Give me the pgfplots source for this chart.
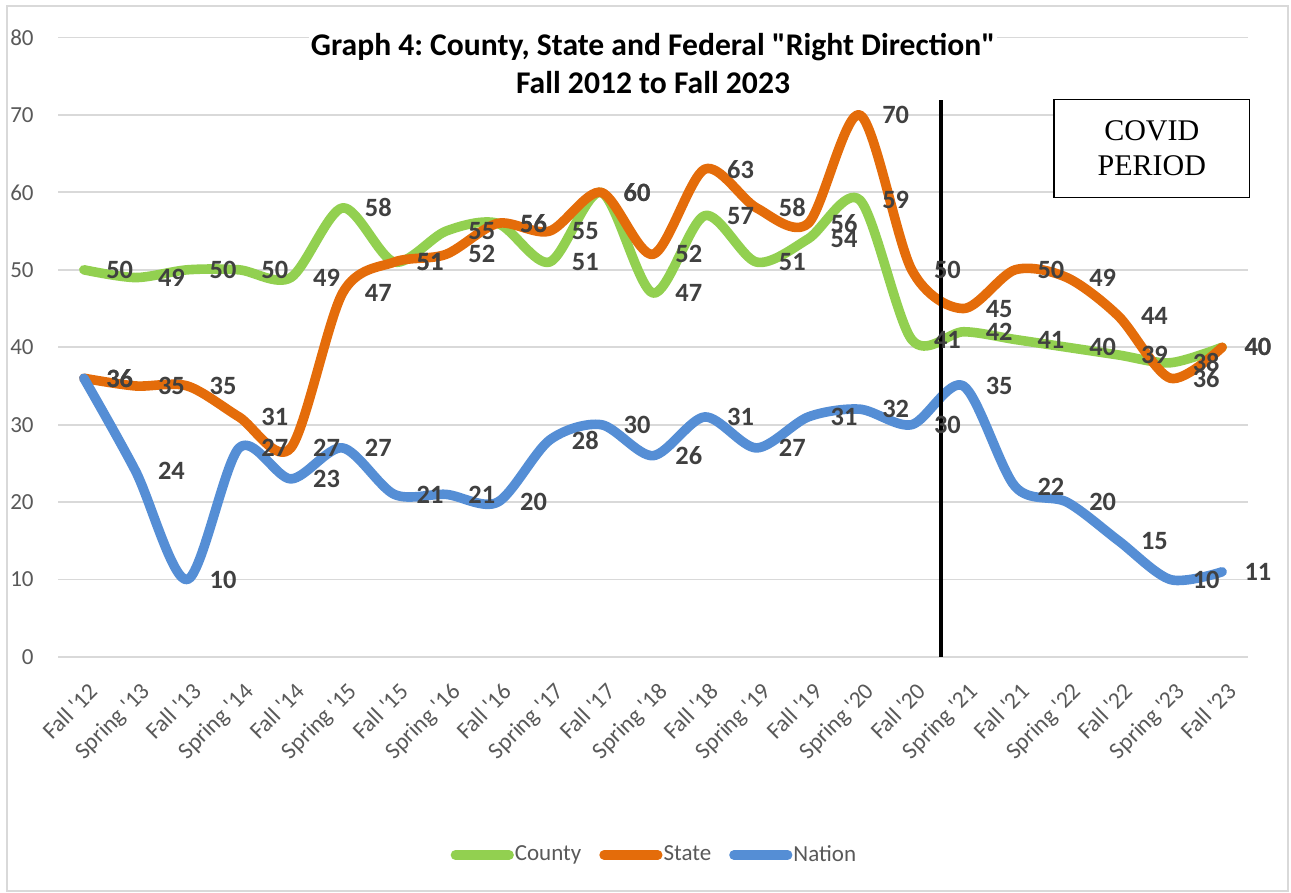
\documentclass[border=0pt]{standalone}
\usepackage{fontspec}
\setmainfont{Carlito}
\newfontfamily\timesfont{Liberation Serif}
\usepackage{pgfplots}
\usepackage{pgfplotstable}
\pgfplotsset{compat=1.18}
\definecolor{cgreen}{HTML}{92D050}
\definecolor{corange}{HTML}{E46C0A}
\definecolor{cblue}{HTML}{558ED5}
\definecolor{lblgray}{HTML}{404040}
\definecolor{tickgray}{HTML}{595959}
\definecolor{gridgray}{HTML}{D9D9D9}

\pgfplotstableread{
x county state nation
0 50 36 36
1 49 35 24
2 50 35 10
3 50 31 27
4 49 27 23
5 58 47 27
6 51 51 21
7 55 52 21
8 56 56 20
9 51 55 28
10 60 60 30
11 47 52 26
12 57 63 31
13 51 58 27
14 54 56 31
15 59 70 32
16 41 50 30
17 42 45 35
18 41 50 22
19 40 49 20
20 39 44 15
21 38 36 10
22 40 40 11
}\datatable

\begin{document}
\frenchspacing
\begin{tikzpicture}[x=1pt,y=1pt]
\useasboundingbox (-29,-118) rectangle (616.5,328.5);
\draw[gridgray, line width=0.7pt] (-25.5,-117) rectangle (615,325.5);
\begin{axis}[
  at={(0,0)}, anchor=south west,
  scale only axis, width=595pt, height=309.75pt,
  xmin=-0.5, xmax=22.5, ymin=0, ymax=80,
  clip=false,
  axis line style={draw=none},
  major tick length=0pt,
  ymajorgrids, grid style={gridgray, line width=0.9pt},
  ytick={0,10,...,80},
  xtick={0,...,22},
  xticklabels={Fall \textquotesingle12, Spring \textquotesingle13, Fall \textquotesingle13, Spring \textquotesingle14, Fall \textquotesingle14, Spring \textquotesingle15, Fall \textquotesingle15, Spring \textquotesingle16, Fall \textquotesingle16, Spring \textquotesingle17, Fall \textquotesingle17, Spring \textquotesingle18, Fall \textquotesingle18, Spring \textquotesingle19, Fall \textquotesingle19, Spring \textquotesingle20, Fall \textquotesingle20, Spring \textquotesingle21, Fall \textquotesingle21, Spring \textquotesingle22, Fall \textquotesingle22, Spring \textquotesingle23, Fall \textquotesingle23},
  /pgf/number format/assume math mode=true,
  yticklabel style={font=\fontsize{11.5}{13}\selectfont, text=tickgray, inner sep=0pt, anchor=east, xshift=-12pt},
  xticklabel style={font=\fontsize{11.8}{13}\selectfont, text=tickgray, inner sep=0pt, xshift=2pt, yshift=-12pt, rotate=45, anchor=north east},
  every node near coord/.append style={anchor=west, xshift=11pt, inner sep=0pt, font=\bfseries\fontsize{13.2}{15}\selectfont, text=lblgray},
  legend columns=3,
  legend style={at={(rel axis cs:0.502,-0.3196)}, anchor=center, draw=none, fill=none, font=\fontsize{11.5}{13}\selectfont, text=tickgray, /tikz/every even column/.append style={column sep=7pt}, /tikz/every odd column/.append style={column sep=-1.5pt}},
  legend image code/.code={\draw[#1, line cap=round] (2.2pt,0pt) -- (29pt,0pt);},
]
\addplot[cgreen, line width=4.8pt, smooth, tension=0.5, line cap=round, line join=round] table[x=x,y=county]{\datatable};
\addlegendentry{County}
\addplot[corange, line width=4.8pt, smooth, tension=0.5, line cap=round, line join=round] table[x=x,y=state]{\datatable};
\addlegendentry{State}
\addplot[cblue, line width=4.8pt, smooth, tension=0.5, line cap=round, line join=round] table[x=x,y=nation]{\datatable};
\addlegendentry{Nation}
\addplot[draw=none, forget plot, nodes near coords] table[x=x,y=county]{\datatable};
\addplot[draw=none, forget plot, nodes near coords] table[x=x,y=state]{\datatable};
\addplot[draw=none, forget plot, nodes near coords] table[x=x,y=nation]{\datatable};
\draw[black, line width=2pt] (axis cs:16.56,0) -- (axis cs:16.56,71.9);
\draw[black, fill=white, line width=0.75pt] (axis cs:18.75,59.35) rectangle (axis cs:22.53,72.0);
\node[font=\timesfont\fontsize{15}{17.5}\selectfont, align=center] at (axis cs:20.64,65.7) {COVID\\PERIOD};
\node[anchor=base, fill=white, inner sep=1pt, font=\bfseries\fontsize{15.8}{18}\selectfont] at ([yshift=-8.75pt]rel axis cs:0.5,1) {Graph 4: County, State and Federal \textquotedbl Right Direction\textquotedbl};
\node[anchor=base, inner sep=1pt, font=\bfseries\fontsize{15.8}{18}\selectfont] at ([yshift=-27.75pt]rel axis cs:0.5,1) {Fall 2012 to Fall 2023};
\end{axis}
\end{tikzpicture}
\end{document}
